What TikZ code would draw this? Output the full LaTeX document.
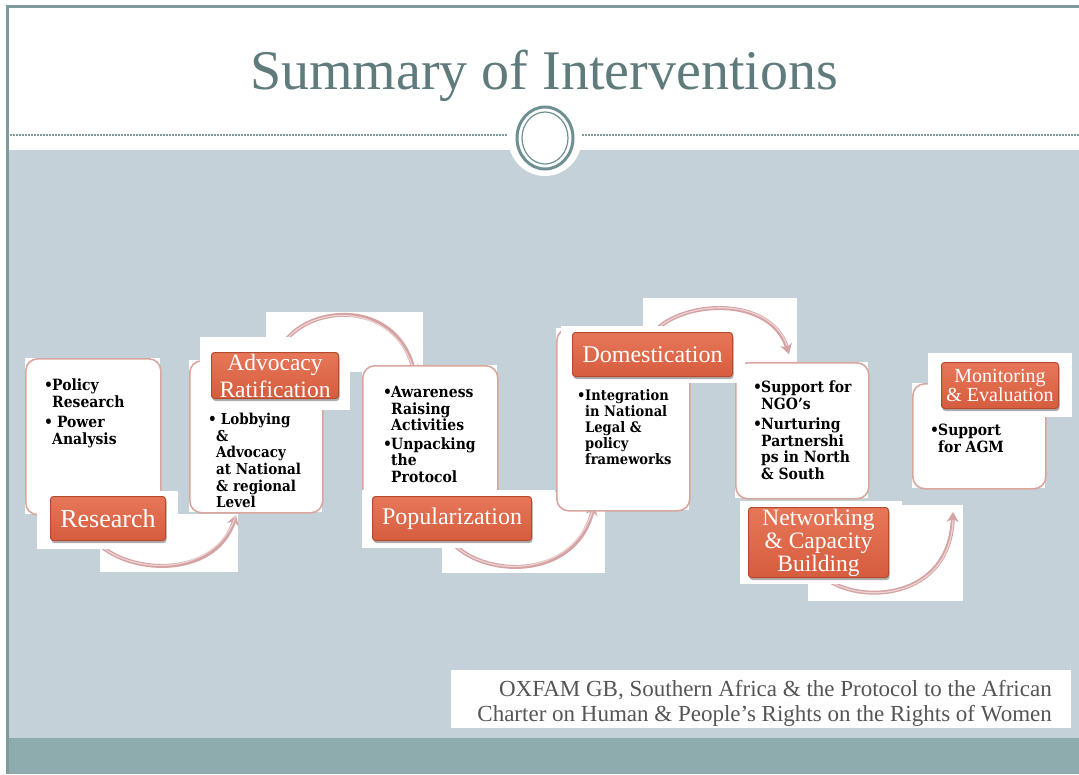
\documentclass[tikz,border=0pt]{standalone}
\usepackage{fontspec}
\setmainfont{Liberation Serif}
\newfontfamily\boxfont{DejaVu Serif}[FakeStretch=0.9]
\usetikzlibrary{arrows.meta,shadows,calc}
\definecolor{bodybg}{HTML}{C5D1D8}
\definecolor{framec}{HTML}{7F9A9B}
\definecolor{bandc}{HTML}{8EACAD}
\definecolor{titlec}{HTML}{5F7B7C}
\definecolor{ringc}{HTML}{6F9092}
\definecolor{orangetop}{HTML}{E77759}
\definecolor{orangebot}{HTML}{D65C3E}
\definecolor{oranged}{HTML}{B44A30}
\definecolor{pinkb}{HTML}{D9A69E}
\definecolor{arcc}{HTML}{D5A3A3}
\definecolor{arcl}{HTML}{EDD3D2}
\definecolor{footc}{HTML}{555555}
\newcommand\bit[1]{\makebox[8pt][l]{\textbullet}#1}
\newcommand\cnt[1]{\hspace*{8pt}#1}
\tikzset{
  backing/.style={fill=white,draw=none},
  txtbox/.style={draw=pinkb,line width=1.6pt,rounded corners=12pt,fill=white},
  txt/.style={anchor=north west,inner sep=0pt,align=left,font=\boxfont\bfseries\fontsize{15.5}{16.5}\selectfont},
  lbl/.style={draw=oranged,line width=1pt,rounded corners=3pt,top color=orangetop,bottom color=orangebot,
     text=white,align=center,inner sep=0pt,
     drop shadow={shadow xshift=1pt,shadow yshift=-2.5pt,opacity=.45,fill=black!70}},
  arcout/.style={draw=arcc,line width=4pt,-{Stealth[length=10pt,width=12pt]}},
  arcin/.style={draw=arcl,line width=1.2pt},
}
\begin{document}
\begin{tikzpicture}[x=1pt,y=-1pt]
\useasboundingbox (0,0) rectangle (1079,774);
% background
\fill[white] (0,0) rectangle (1079,774);
\fill[bodybg] (9,150) rectangle (1079,738);
\fill[bandc] (9,738) rectangle (1079,774);
\draw[framec,line width=3pt] (7.5,774) -- (7.5,6.5) -- (1079,6.5);
% header
\node[font=\fontsize{56}{60}\selectfont,text=titlec,anchor=base] (title) at (544,89) {Summary of Interventions};
\draw[framec,line width=1.6pt,dash pattern=on 2pt off 1pt] (10,135) -- (508,135);
\draw[framec,line width=1.6pt,dash pattern=on 2pt off 1pt] (582,135) -- (1079,135);
\fill[white] (545,138) ellipse [x radius=37,y radius=38];
\draw[ringc,line width=3pt,fill=white] (545,138) ellipse [x radius=28,y radius=31];
\draw[ringc,line width=1.2pt] (545,138) ellipse [x radius=23,y radius=26];
% arc backings
\fill[backing] (100,514) rectangle (238,572);
\fill[backing] (266,312) rectangle (423,372);
\fill[backing] (442,492) rectangle (605,573);
\fill[backing] (643,298) rectangle (797,362);
\fill[backing] (808,505) rectangle (963,601);
% arc endpoints
\coordinate (a1s) at (95,540);  \coordinate (a1e) at (236,515);
\coordinate (a2s) at (280,350); \coordinate (a2e) at (415,375);
\coordinate (a3s) at (450,540); \coordinate (a3e) at (594,505);
\coordinate (a4s) at (648,340); \coordinate (a4e) at (789,354);
\coordinate (a5s) at (825,578); \coordinate (a5e) at (953,512);
\draw[arcout] (a1s) .. controls (125,575) and (215,580) .. (a1e);
\draw[arcin] (a1s) .. controls (125,575) and (215,580) .. (a1e);
\draw[arcout] (a2s) .. controls (300,305) and (395,295) .. (a2e);
\draw[arcin] (a2s) .. controls (300,305) and (395,295) .. (a2e);
\draw[arcout] (a3s) .. controls (480,578) and (575,582) .. (a3e);
\draw[arcin] (a3s) .. controls (480,578) and (575,582) .. (a3e);
\draw[arcout] (a4s) .. controls (670,300) and (770,292) .. (a4e);
\draw[arcin] (a4s) .. controls (670,300) and (770,292) .. ($(a4e)+(-2,-8)$);
\draw[arcout] (a5s) .. controls (860,605) and (950,600) .. (a5e);
\draw[arcin] (a5s) .. controls (860,605) and (950,600) .. ($(a5e)+(0,8)$);
% text boxes
\fill[backing] (25,358) rectangle (160,514);
\node[txtbox,anchor=north west,minimum width=135pt,minimum height=156pt] (rb) at (25,358) {};
\fill[backing] (189,360) rectangle (322,512);
\node[txtbox,anchor=north west,minimum width=133pt,minimum height=152pt] (ab) at (189,360) {};
\fill[backing] (362,365) rectangle (497,505);
\node[txtbox,anchor=north west,minimum width=135pt,minimum height=140pt] (pb) at (362,365) {};
\fill[backing] (556,328) rectangle (689,510);
\node[txtbox,anchor=north west,minimum width=133pt,minimum height=182pt] (db) at (556,328) {};
\fill[backing] (735,362) rectangle (868,498);
\node[txtbox,anchor=north west,minimum width=133pt,minimum height=136pt] (nb) at (735,362) {};
\fill[backing] (912,383) rectangle (1045,488);
\node[txtbox,anchor=north west,minimum width=133pt,minimum height=105pt] (mb) at (912,383) {};
% box texts
\node[txt] (rt) at (44,379) {\bit{Policy}\\\cnt{Research}\\[4pt]\bit{ Power}\\\cnt{Analysis}};
\node[txt,font=\boxfont\bfseries\fontsize{15}{16.6}\selectfont] (at) at (208,413) {\bit{ Lobbying}\\\cnt{\&}\\\cnt{Advocacy}\\\cnt{at National}\\\cnt{\& regional}\\\cnt{Level}};
\node[txt] (pt) at (383,386) {\bit{Awareness}\\\cnt{Raising}\\\cnt{Activities}\\[2pt]\bit{Unpacking}\\\cnt{the}\\\cnt{Protocol}};
\node[txt,font=\boxfont\bfseries\fontsize{14.5}{16}\selectfont] (dt) at (577,389) {\bit{Integration}\\\cnt{in National}\\\cnt{Legal \&}\\\cnt{policy}\\\cnt{frameworks}};
\node[txt] (nt) at (753,381) {\bit{Support for}\\\cnt{NGO’s}\\[4pt]\bit{Nurturing}\\\cnt{Partnershi}\\\cnt{ps in North}\\\cnt{\& South}};
\node[txt] (mt) at (930,424) {\bit{Support}\\\cnt{for AGM}};
% labels
\fill[backing] (37,491) rectangle (178,549);
\node[lbl,anchor=north west,minimum width=115pt,minimum height=44pt,font=\fontsize{26}{27}\selectfont] (rl) at (50,496) {Research};
\fill[backing] (200,337) rectangle (350,410);
\node[lbl,anchor=north west,minimum width=127pt,minimum height=46pt,font=\fontsize{23.5}{28}\selectfont] (al) at (211,352) {Advocacy\\[-1pt]Ratification};
\fill[backing] (362,490) rectangle (555,548);
\node[lbl,anchor=north west,minimum width=159pt,minimum height=44pt,font=\fontsize{24}{27}\selectfont] (pl) at (372,496) {Popularization};
\fill[backing] (561,326) rectangle (745,383);
\node[lbl,anchor=north west,minimum width=160pt,minimum height=44pt,font=\fontsize{24}{27}\selectfont] (dl) at (572,332) {Domestication};
\fill[backing] (740,501) rectangle (902,584);
\node[lbl,anchor=north west,minimum width=140pt,minimum height=70pt,font=\fontsize{23.5}{23}\selectfont] (nl) at (748,507) {Networking\\\& Capacity\\Building};
\fill[backing] (928,353) rectangle (1072,417);
\node[lbl,anchor=north west,minimum width=117pt,minimum height=46pt,font=\fontsize{20}{17}\selectfont] (ml) at (941,362) {Monitoring\\\& Evaluation};
% footer
\fill[backing] (451,670) rectangle (1071,728);
\node[anchor=north east,inner sep=0pt,align=right,text=footc,font=\fontsize{23}{25}\selectfont] (foot) at (1052,680)
  {OXFAM GB, Southern Africa \& the Protocol to the African\\Charter on Human \& People’s Rights on the Rights of Women};
\end{tikzpicture}
\end{document}
